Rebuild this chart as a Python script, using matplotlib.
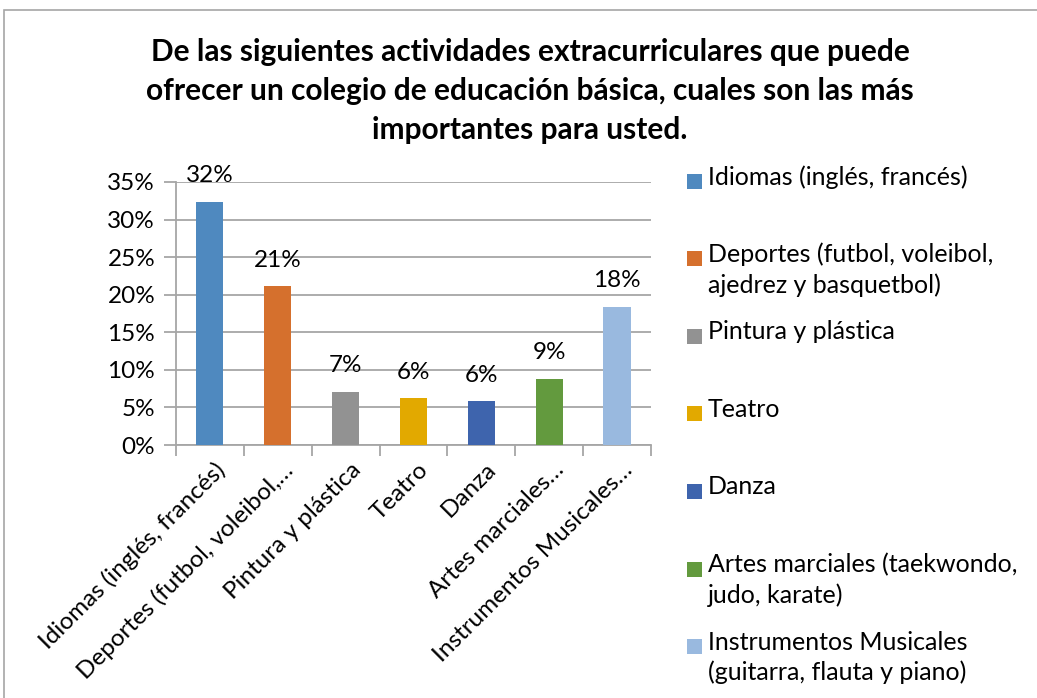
import numpy as np
import matplotlib
matplotlib.use("Agg")
import matplotlib.pyplot as plt
from matplotlib.patches import Rectangle

# ---------------- data ----------------
categories = ["Idiomas (inglés, francés)",
              "Deportes (futbol, voleibol, ajedrez y basquetbol)",
              "Pintura y plástica",
              "Teatro",
              "Danza",
              "Artes marciales (taekwondo, judo, karate)",
              "Instrumentos Musicales (guitarra, flauta y piano)"]
tick_labels = ["Idiomas (inglés, francés)",
               "Deportes (futbol, voleibol,…",
               "Pintura y plástica",
               "Teatro",
               "Danza",
               "Artes marciales…",
               "Instrumentos Musicales…"]
legend_labels = ["Idiomas (inglés, francés)",
                 "Deportes (futbol, voleibol,\najedrez y basquetbol)",
                 "Pintura y plástica",
                 "Teatro",
                 "Danza",
                 "Artes marciales (taekwondo,\njudo, karate)",
                 "Instrumentos Musicales\n(guitarra, flauta y piano)"]
values = [0.323, 0.211, 0.071, 0.062, 0.058, 0.088, 0.184]
colors = ["#4F89BF", "#D5702D", "#929292", "#E2A900", "#3E64AD", "#639A3E", "#99B9DF"]

TITLE = ("De las siguientes actividades extracurriculares que puede\n"
         "ofrecer un colegio de educación básica, cuales son las más\n"
         "importantes para usted.")

plt.rcParams["font.family"] = ["Lato", "DejaVu Sans"]

W, H = 1037, 698
fig = plt.figure(figsize=(W / 100, H / 100), dpi=100)

# chart border
fig.patches.append(Rectangle((4 / W, -0.05), 1.05, 1 - 10 / H + 0.05,
                             transform=fig.transFigure, fill=False,
                             edgecolor="#A6A6A6", linewidth=1.2))

# title
fig.text(530 / W, 1 - 91 / H, TITLE, ha="center", va="center",
         fontsize=21.5, fontweight="bold", linespacing=1.5)

# ---------------- axes ----------------
ax = fig.add_axes([176 / W, 1 - 445 / H, (651 - 176) / W, (445 - 182) / H])
x = np.arange(len(values))
ax.bar(x, values, width=0.4, color=colors, zorder=3)

for xi, v in zip(x, values):
    ax.annotate(f"{round(v * 100):.0f}%", (xi, v), xytext=(0, 19),
                textcoords="offset points", ha="center", va="center",
                fontsize=17.5)

ax.set_ylim(0, 0.35)
ax.set_xlim(-0.5, len(values) - 0.5)
ax.set_yticks(np.arange(0, 0.36, 0.05))
ax.set_yticklabels([f"{int(round(t * 100))}%" for t in np.arange(0, 0.36, 0.05)],
                   fontsize=17.5)
ax.yaxis.grid(True, color="#A6A6A6", linewidth=1.3, zorder=0)
ax.tick_params(axis="y", length=9, width=1.3, color="#A6A6A6", pad=6)

# category boundary ticks on x axis
ax.set_xticks(np.arange(-0.5, len(values), 1.0))
ax.set_xticklabels([])
ax.tick_params(axis="x", length=8, width=1.3, color="#A6A6A6")
for xi, lab in zip(x, tick_labels):
    ax.annotate(lab, (xi, 0), xytext=(3, -10), textcoords="offset points",
                ha="right", va="top", rotation=45, rotation_mode="anchor",
                fontsize=17.5)

for side in ["top", "right"]:
    ax.spines[side].set_visible(False)
for side in ["left", "bottom"]:
    ax.spines[side].set_color("#A6A6A6")
    ax.spines[side].set_linewidth(1.3)

# ---------------- legend (Excel style, marker at first line) ----------------
y0, step = 181, 77.6
for i, (lab, c) in enumerate(zip(legend_labels, colors)):
    yc = y0 + i * step
    fig.patches.append(Rectangle((687 / W, 1 - (yc + 7.5) / H), 15 / W, 15 / H,
                                 transform=fig.transFigure, facecolor=c,
                                 edgecolor="none"))
    fig.text(708 / W, 1 - (yc - 16) / H, lab, ha="left", va="top",
             fontsize=18, linespacing=1.35)

fig.savefig("out.png", dpi=100)
